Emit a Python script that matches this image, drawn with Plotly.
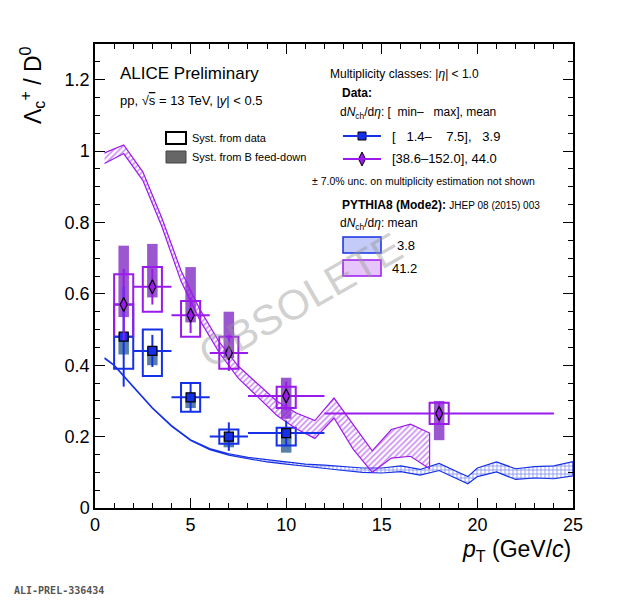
import plotly.graph_objects as go
import numpy as np

# Data: low multiplicity [1.4-7.5]
x_lo = [1.5, 3, 5, 7, 10]
xerr_lo = [0.5, 1, 1, 1, 2]
y_lo = [0.48, 0.44, 0.31, 0.20, 0.21]
stat_lo = [0.14, 0.045, 0.04, 0.04, 0.035]
syst_lo_low = [0.39, 0.37, 0.27, 0.18, 0.175]
syst_lo_high = [0.57, 0.50, 0.35, 0.22, 0.225]
fd_lo_low = [0.43, 0.40, 0.28, 0.17, 0.155]
fd_lo_high = [0.49, 0.45, 0.31, 0.20, 0.20]

# high multiplicity [38.6-152.0]
x_hi = [1.5, 3, 5, 7, 10, 18]
xerr_hi = [0.5, 1, 1, 1, 2, 6]
y_hi = [0.57, 0.62, 0.54, 0.434, 0.314, 0.265]
stat_hi = [0.1, 0.05, 0.05, 0.05, 0.04, 0.03]
syst_hi_low = [0.48, 0.55, 0.48, 0.39, 0.28, 0.235]
syst_hi_high = [0.655, 0.675, 0.58, 0.48, 0.34, 0.295]
fd_hi_low = [0.535, 0.59, 0.52, 0.42, 0.25, 0.19]
fd_hi_high = [0.735, 0.74, 0.675, 0.55, 0.365, 0.30]

# PYTHIA8 Mode2
py_hi_x = [0.5, 1.5, 2.5, 3.5, 4.5, 5.5, 6.5, 7.5, 8.5, 9.5, 10.5, 11.5, 12.5, 13.5, 14.5, 15.5, 16.5, 17.5]
py_hi_y = [0.98, 1.005, 0.93, 0.80, 0.65, 0.54, 0.45, 0.38, 0.33, 0.28, 0.245, 0.22, 0.28, 0.20, 0.13, 0.18, 0.19, 0.16]
py_hi_w = [0.015, 0.012, 0.012, 0.012, 0.015, 0.015, 0.015, 0.017, 0.018, 0.02, 0.022, 0.025, 0.028, 0.035, 0.03, 0.04, 0.045, 0.05]

py_lo_x = [0.5, 1, 2, 3, 4, 5, 6, 7, 8, 9, 10, 11, 12, 13, 14, 15, 16, 17, 18, 19, 19.5, 20, 21, 22, 23, 24, 25]
py_lo_y = [0.42, 0.40, 0.34, 0.28, 0.23, 0.19, 0.165, 0.15, 0.14, 0.132, 0.126, 0.12, 0.116, 0.11, 0.106, 0.105, 0.11, 0.10, 0.115, 0.09, 0.078, 0.10, 0.115, 0.095, 0.10, 0.10, 0.11]
py_lo_w = [0.001, 0.001, 0.001, 0.001, 0.001, 0.001, 0.0015, 0.002, 0.002, 0.003, 0.003, 0.003, 0.004, 0.005, 0.006, 0.007, 0.008, 0.008, 0.01, 0.01, 0.01, 0.012, 0.014, 0.015, 0.016, 0.018, 0.02]

BLUE = "#1530e6"
PURP = "#9a1aeb"
BLUE_FD = "#3a6a9a"
PURP_FD = "#8a3ac8"

fig = go.Figure()

def band(x, y, w, color, shape):
    x = np.array(x); y = np.array(y); w = np.array(w)
    xs = list(x) + list(x[::-1])
    ys = list(y + w) + list((y - w)[::-1])
    fig.add_trace(go.Scatter(x=xs, y=ys, fill="toself", mode="lines",
                             line=dict(color=color, width=1.2),
                             fillcolor="rgba(255,255,255,0)",
                             fillpattern=dict(shape=shape, fgcolor=color, size=4, solidity=0.4),
                             hoverinfo="skip", showlegend=False))

band(py_lo_x, py_lo_y, py_lo_w, BLUE, "+")
band(py_hi_x, py_hi_y, py_hi_w, PURP, "/")

def series(x, xerr, y, stat, sl, sh, fl, fh, color, fdcol, sym):
    fig.add_trace(go.Bar(x=x, base=fl, y=[h - l for h, l in zip(fh, fl)], width=0.55,
                         marker=dict(color=fdcol, opacity=0.85, line=dict(width=0)), showlegend=False))
    fig.add_trace(go.Bar(x=x, base=sl, y=[h - l for h, l in zip(sh, sl)], width=1.0,
                         marker=dict(color="rgba(0,0,0,0)", line=dict(color=color, width=2)), showlegend=False))
    fig.add_trace(go.Scatter(x=x, y=y, mode="markers",
                             error_x=dict(type="data", array=xerr, color=color, thickness=2, width=0),
                             error_y=dict(type="data", array=stat, color=color, thickness=2, width=0),
                             marker=dict(symbol=sym, size=9 if sym == "square" else 10, color=color,
                                         line=dict(color="black", width=1.2)), showlegend=False))

series(x_lo, xerr_lo, y_lo, stat_lo, syst_lo_low, syst_lo_high, fd_lo_low, fd_lo_high, BLUE, BLUE_FD, "square")
series(x_hi, xerr_hi, y_hi, stat_hi, syst_hi_low, syst_hi_high, fd_hi_low, fd_hi_high, PURP, PURP_FD, "diamond-tall")

F = "Liberation Sans, Arial"
ann = []
def T(x, y, t, s=13, xa="left", col="black", **kw):
    ann.append(dict(x=x, y=y, xref="paper", yref="paper", text=t, showarrow=False, xanchor=xa,
                    yanchor="middle", font=dict(family=F, size=s, color=col), **kw))

# screenshot px -> paper coords; plot area px x 95-573, y 44-508
def px(X): return (X - 95) / 478
def py(Y): return (508 - Y) / 464

T(px(118), py(73), "ALICE Preliminary", 17)
T(px(118), py(100), "pp, √<span style='text-decoration:overline'>s</span> = 13 TeV, |<i>y</i>| < 0.5", 13)
T(px(190), py(138), "Syst. from data", 11)
T(px(190), py(157), "Syst. from B feed-down", 11)
T(px(328), py(74), "Multiplicity classes: |<i>η</i>| < 1.0", 12)
T(px(340), py(93), "<b>Data:</b>", 12)
T(px(338), py(113), "d<i>N</i><sub>ch</sub>/d<i>η</i>: [  min–   max], mean", 12)
T(px(390), py(136), "[   1.4–    7.5],   3.9", 13)
T(px(390), py(159), "[38.6–152.0], 44.0", 13)
T(px(310), py(181), "± 7.0% unc. on multiplicity estimation not shown", 10.5)
T(px(340), py(205), "<b>PYTHIA8 (Mode2):</b> <span style='font-size:10px'>JHEP 08 (2015) 003</span>", 12)
T(px(338), py(224), "d<i>N</i><sub>ch</sub>/d<i>η</i>: mean", 12)
T(px(395), py(245), "3.8", 13)
T(px(390), py(268), "41.2", 13)
T(px(300), py(300), "OBSOLETE", 42, xa="center", col="rgba(150,150,150,0.45)", textangle=-30)
T(px(573), py(550), "<i>p</i><sub>T</sub> (GeV/<i>c</i>)", 23, xa="right")
ann.append(dict(x=px(32), y=1.0, xref="paper", yref="paper", text="Λ<sub>c</sub><sup>+</sup> / D<sup>0</sup>",
                showarrow=False, xanchor="center", yanchor="top", textangle=-90, font=dict(family=F, size=23, color="black")))
T(px(12), py(590), "<b>ALI-PREL-336434</b>", 10, col="#555")
ann[-1]["font"]["family"] = "DejaVu Sans Mono"

shapes = []
def R(x0, y0, x1, y1, **kw):
    shapes.append(dict(type="rect", xref="paper", yref="paper", x0=px(x0), x1=px(x1), y0=py(y0), y1=py(y1), **kw))
def L(x0, y0, x1, y1, col):
    shapes.append(dict(type="line", xref="paper", yref="paper", x0=px(x0), x1=px(x1), y0=py(y0), y1=py(y1), line=dict(color=col, width=2)))

R(166, 132, 186, 144, line=dict(color="black", width=2))
R(166, 151, 186, 163, fillcolor="#666", line=dict(color="#444", width=1))
L(343, 136, 381, 136, BLUE)
L(343, 159, 381, 159, PURP)
R(343, 237, 381, 253, line=dict(color=BLUE, width=1.5), fillcolor="rgba(21,48,230,0.25)")
R(343, 260, 381, 276, line=dict(color=PURP, width=1.5), fillcolor="rgba(154,26,235,0.25)")

fig.add_trace(go.Scatter(x=[px(362)], y=[py(136)], xaxis="x2", yaxis="y2", mode="markers",
                         marker=dict(symbol="square", size=8, color=BLUE, line=dict(color="black", width=1)), showlegend=False))
fig.add_trace(go.Scatter(x=[px(362)], y=[py(159)], xaxis="x2", yaxis="y2", mode="markers",
                         marker=dict(symbol="diamond-tall", size=10, color=PURP, line=dict(color="black", width=1)), showlegend=False))

ax = dict(showgrid=False, zeroline=False, showline=True, linecolor="black", linewidth=1.5, mirror="ticks",
          ticks="inside", ticklen=10, tickwidth=1, tickcolor="black", minor=dict(ticks="inside", ticklen=5, tickcolor="black"),
          tickfont=dict(family=F, size=18, color="black"))
fig.update_layout(
    width=604, height=592, margin=dict(l=87, r=39, t=36, b=92),
    plot_bgcolor="white", paper_bgcolor="white", barmode="overlay",
    xaxis=dict(range=[0, 25], dtick=5, minor_dtick=1, **ax),
    yaxis=dict(range=[0, 1.3], dtick=0.2, minor_dtick=0.05, tickformat="~g", **ax),
    xaxis2=dict(range=[0, 1], overlaying="x", visible=False),
    yaxis2=dict(range=[0, 1], overlaying="y", visible=False),
    annotations=ann, shapes=shapes,
)
fig.write_html("out.html")
